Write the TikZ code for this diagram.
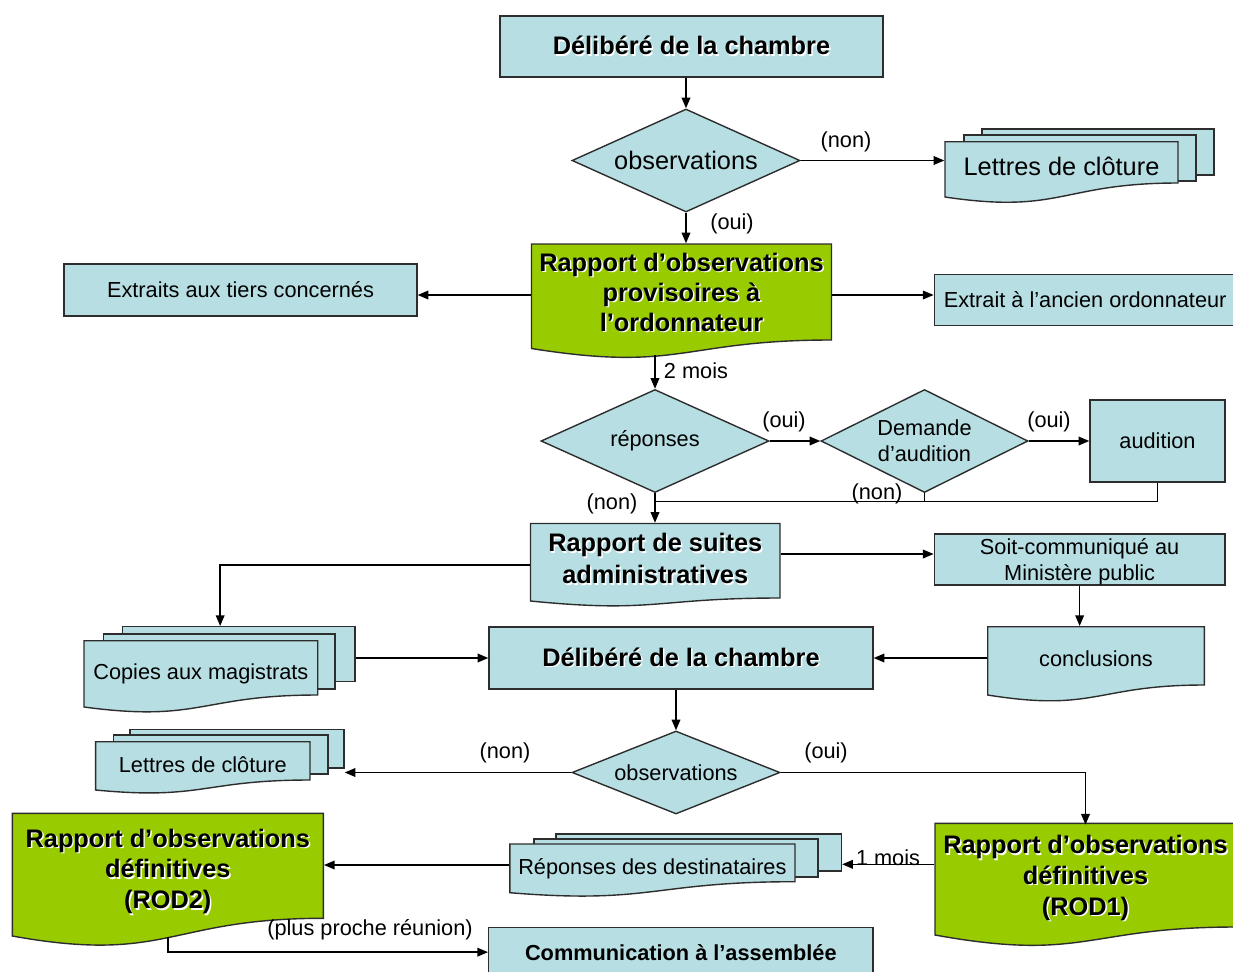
\documentclass[tikz,border=0pt]{standalone}
\usepackage{fontspec}
\setmainfont{Liberation Sans}
\usetikzlibrary{arrows.meta,shapes.geometric,calc}
\definecolor{lb}{RGB}{183,223,227}
\definecolor{gr}{RGB}{153,204,0}
\definecolor{bd}{RGB}{45,45,45}
\newcommand{\fbig}{\fontsize{19}{22.5}\selectfont}
\newcommand{\fbigr}{\fontsize{19}{23}\selectfont}
\newcommand{\fbigb}{\fontsize{19}{24}\selectfont}
\newcommand{\fsml}{\fontsize{16.3}{19.5}\selectfont}
\newcommand{\shw}[1]{\leavevmode\rlap{\color{white}\kern1.1pt\raisebox{-1.1pt}{#1}}#1}
% doc shape: fill, left, top, right, y right end, y left end, y control
\newcommand{\docsh}[7]{\draw[draw=bd,fill=#1] (#2,#3) -- (#4,#3) -- (#4,#5) .. controls ({(#2+#4)/2},#5) and ({(#2+#4)/2},#7) .. (#2,#6) -- cycle;}
% box node: name, style, x1, y1, x2, y2, text
\newcommand{\bxn}[7]{\node[#2,minimum width={(#5-#3)*0.75pt},minimum height={(#6-#4)*0.75pt}] (#1) at ({(#3+#5)/2},{(#4+#6)/2}) {#7};}
\begin{document}
\begin{tikzpicture}[x=0.75pt,y=-0.75pt,line width=1.05pt,
  bx/.style={draw=bd,fill=lb,inner sep=0pt,align=center},
  txt/.style={inner sep=0pt,align=center},
  dia/.style={diamond,draw=bd,fill=lb,inner sep=0pt,align=center,shape aspect=2.2},
  lbl/.style={inner sep=0pt,font=\fsml},
  arr/.style={draw=black,-{Triangle[length=8pt,width=6.5pt]}}]
\useasboundingbox (0,0) rectangle (1233,972);
\fill[white] (0,0) rectangle (1233,972);

% top
\bxn{D1}{bx,font=\fbig\bfseries}{500}{16}{883}{77}{\shw{Délibéré de la chambre}}
\node[dia,minimum width=171pt,minimum height=77.25pt,font=\fbig] (O1) at (686,160.5) {observations};

% Lettres de cloture (top)
\bxn{LC1c}{bx}{982}{129}{1214}{175}{}
\bxn{LC1b}{bx}{964}{135}{1196}{181}{}
\docsh{lb}{945}{141.7}{1178}{183}{197}{214.4}
\bxn{LC1}{txt,font=\fbig}{945}{141.7}{1178}{191}{Lettres de clôture}

% Rapport provisoire
\docsh{gr}{531.5}{244}{831.5}{340}{348.5}{372.5}
\bxn{RP}{txt,font=\fbig\bfseries}{531.5}{244}{831.5}{342}{\shw{Rapport d’observations}\\\shw{provisoires à}\\\shw{l’ordonnateur}}
\bxn{EX}{bx,font=\fsml}{64}{264}{417}{316}{Extraits aux tiers concernés}
\bxn{EA}{bx,font=\fsml}{934.3}{274.3}{1236}{325.7}{Extrait à l’ancien ordonnateur}
\coordinate (rpb) at (655,355);

% reponses
\node[dia,minimum width=171pt,minimum height=77.25pt,font=\fsml] (R) at (655,441) {réponses};
\node[dia,minimum width=155.25pt,minimum height=77.25pt,font=\fsml] (DA) at (924.5,441) {Demande\\d’audition};
\bxn{AU}{bx,font=\fsml}{1090}{400}{1225}{482}{audition}
\coordinate (j) at (655,501.5);

% Rapport de suites
\docsh{lb}{530.5}{523.5}{780}{598}{601}{613.4}
\bxn{RSA}{txt,font=\fbigb\bfseries}{530.5}{523.5}{780}{595}{\shw{Rapport de suites}\\\shw{administratives}}
\bxn{SC}{bx}{934.3}{534}{1225}{585}{}
\node[txt,font=\fsml] (SCt) at ($(SC.center)+(0,2.5)$) {Soit-communiqué au\\Ministère public};
\docsh{lb}{987.7}{626.7}{1204.3}{685}{695}{712.4}
\bxn{CO}{txt,font=\fsml}{987.7}{626.7}{1204.3}{690}{conclusions}
\bxn{D2}{bx,font=\fbig\bfseries}{489}{627}{873}{689}{\shw{Délibéré de la chambre}}

% Copies
\bxn{CMc}{bx}{122.7}{626.7}{355}{681.7}{}
\bxn{CMb}{bx}{103.3}{634}{335}{689}{}
\docsh{lb}{84}{640.7}{317.7}{695}{707}{722.7}
\bxn{CM}{txt,font=\fsml}{84}{643}{317.7}{704}{Copies aux magistrats}

% observations 2
\node[dia,minimum width=156pt,minimum height=62.25pt,font=\fsml] (O2) at (676,772.5) {observations};
\bxn{LC2c}{bx}{130}{729.3}{344}{768}{}
\bxn{LC2b}{bx}{113.5}{735}{327.8}{774}{}
\docsh{lb}{95.6}{741.7}{310}{780}{790}{800.3}
\bxn{LC2}{txt,font=\fsml}{95.6}{742.7}{310}{787}{Lettres de clôture}

% ROD1
\docsh{gr}{935}{823.3}{1236}{927}{935}{962.2}
\bxn{ROD1}{txt,font=\fbigr\bfseries}{935}{825.3}{1236}{932}{\shw{Rapport d’observations}\\\shw{définitives}\\\shw{(ROD1)}}
\bxn{RDc}{bx}{556}{834}{841.5}{871}{}
\bxn{RDb}{bx}{533.8}{839}{818}{877}{}
\docsh{lb}{509.8}{844}{795}{881.7}{892.7}{904.4}
\bxn{RD}{txt,font=\fsml}{509.8}{846}{795}{892}{Réponses des destinataires}

% ROD2
\docsh{gr}{12.3}{813.3}{323.3}{918.3}{936}{964}
\bxn{ROD2}{txt,font=\fbigr\bfseries}{12.3}{815.3}{323.3}{929}{\shw{Rapport d’observations}\\\shw{définitives}\\\shw{(ROD2)}}
\bxn{CA}{bx,font=\fsml\bfseries}{488.7}{927.3}{873}{977}{Communication à l’assemblée}
\coordinate (r2b) at (168,937);
\coordinate (rsl) at (RSA.north west |- 0,565);
\coordinate (rsr) at (RSA.north east |- 0,554);
\coordinate (r1w) at (ROD1.north west |- 0,864.3);

% connectors
\draw[arr] (O1.north |- D1.south) -- (O1.north);
\draw[arr] (O1.east) -- (O1.east -| LC1.west);
\draw[arr] (O1.south) -- (O1.south |- RP.north);
\draw[arr] (RP.west |- 0,295) -- (EX.east |- 0,295);
\draw[arr] (RP.east |- 0,295) -- (EA.west |- 0,295);
\draw[arr] (rpb) -- (R.north);
\draw[arr] (R.east) -- (DA.west);
\draw[arr] (DA.east) -- (DA.east -| AU.west);
\draw (AU.south) |- (j);
\draw (DA.south) -- (DA.south |- j);
\draw[arr] (R.south) -- (R.south |- RSA.north);
\draw[arr] (rsl) -| ($(CMc.north west)!0.42!(CMc.north east)$);
\draw[arr] (rsr) -- (rsr -| SC.west);
\draw[arr] (SC.south) -- (SC.south |- CO.north);
\draw[arr] (CO.west |- D2.west) -- (D2.east);
\draw[arr] (D2.west -| CMc.east) -- (D2.west);
\draw[arr] (O2.north |- D2.south) -- (O2.north);
\draw[arr] (O2.west) -- (O2.west -| LC2c.east);
\draw[arr] (O2.east) -| (ROD1.north);
\draw[arr] (r1w) -- (r1w -| RDc.east);
\draw[arr] (RD.west |- 0,865) -- (ROD2.east |- 0,865);
\draw[arr] (r2b) |- (CA.west);

% labels
\node[lbl] (l1) at (846,142) {(non)};
\node[lbl] (l2) at (732,224) {(oui)};
\node[lbl] (l3) at (696,371) {2 mois};
\node[lbl] (l4) at (784,422) {(oui)};
\node[lbl] (l5) at (1049,422) {(oui)};
\node[lbl] (l6) at (612,504) {(non)};
\node[lbl] (l7) at (877,494) {(non)};
\node[lbl] (l8) at (505,753) {(non)};
\node[lbl] (l9) at (826,753) {(oui)};
\node[lbl] (l10) at (888,858) {1 mois};
\node[lbl] (l11) at (370,930) {(plus proche réunion)};
\end{tikzpicture}
\end{document}
